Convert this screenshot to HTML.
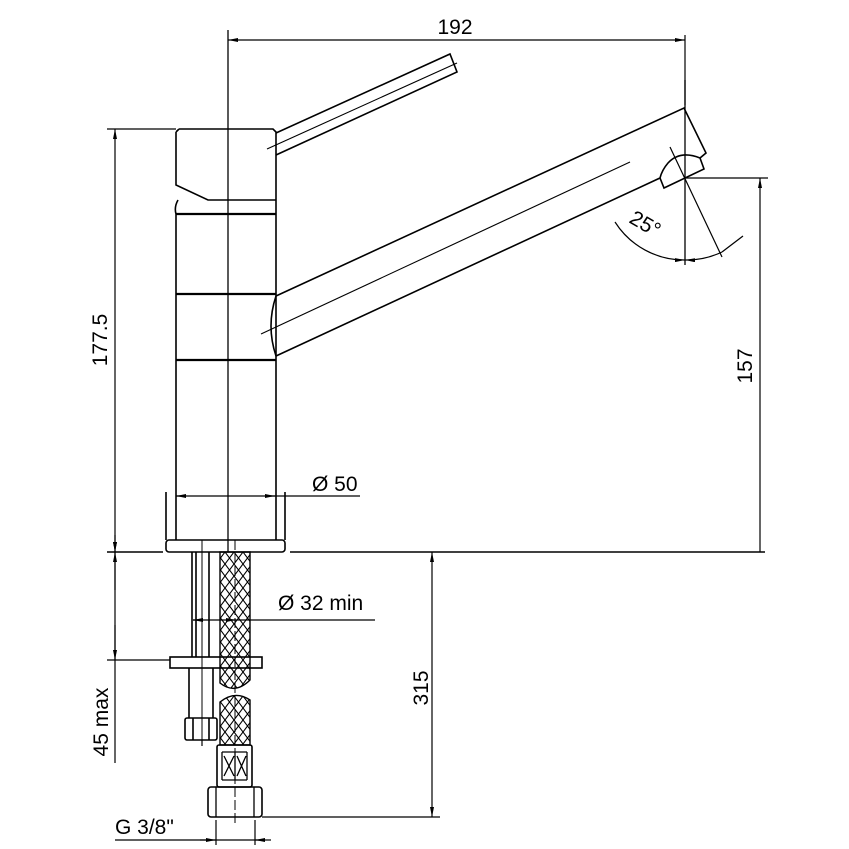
<!DOCTYPE html>
<html><head><style>body{margin:0;background:#fff}svg{display:block}text{font-family:"Liberation Sans",sans-serif;font-size:21px;fill:#000}</style></head><body>
<svg width="849" height="849" viewBox="0 0 849 849" xmlns="http://www.w3.org/2000/svg">
<defs>
<pattern id="x" width="9" height="12" patternUnits="userSpaceOnUse">
<path d="M0 0L9 12M9 0L0 12" stroke="#000" stroke-width="1.1"/>
</pattern>
<marker id="a" viewBox="0 0 10 4" refX="10" refY="2" markerWidth="10" markerHeight="4" markerUnits="userSpaceOnUse" orient="auto-start-reverse"><path d="M0 0L10 2L0 4z" fill="#000"/></marker>
</defs>
<g fill="none" stroke="#000" stroke-width="1.6">
<line x1="228" y1="30" x2="228" y2="552" stroke-width="1.3"/>
<path d="M179 129H273L276 132V200M176 132L179 129M176 132V185L208 200H276"/>
<path d="M178 200Q174 207 176 214V540M276 200V540"/>
<line x1="176" y1="214" x2="276" y2="214" stroke-width="2.2"/>
<line x1="176" y1="294" x2="276" y2="294" stroke-width="2.2"/>
<line x1="176" y1="360" x2="276" y2="360" stroke-width="2.2"/>
<path d="M276 133L450 54L457 72L276 155"/>
<line x1="267" y1="149" x2="457" y2="63" stroke-width="1.1"/>
<path d="M276 296L684 108L706 153L700 158"/>
<path d="M276 356Q266 326 276 296"/>
<path d="M276 356L660 178L664 188L704 169L700 158Q680 150 668 163Q662 170 660 178"/>
<line x1="261" y1="334" x2="630" y2="162" stroke-width="1.1"/>
<line x1="685" y1="80" x2="685" y2="265" stroke-width="1.3"/>
<line x1="670" y1="147" x2="722" y2="257" stroke-width="1.2"/>
<line x1="722" y1="252" x2="743" y2="236" stroke-width="1.2"/>
<path d="M615 222A82 82 0 0 0 685 260" stroke-width="1.2" marker-end="url(#a)"/>
<path d="M685 260A82 82 0 0 0 722 252" stroke-width="1.2" marker-start="url(#a)"/>
<path d="M166 492V540M285 492V540"/>
<rect x="166" y="540" width="119" height="12" rx="3"/>
<line x1="107" y1="552" x2="163" y2="552"/>
<line x1="290" y1="552" x2="765" y2="552"/>
<path d="M192 552V657M196 552V657M209 552V657" />
<line x1="202" y1="540" x2="202" y2="740" stroke-width="1"/>
<rect x="170" y="657" width="92" height="11"/>
<path d="M189 668V718M213 668V718"/>
<rect x="185" y="718" width="32" height="22" rx="2"/>
<path d="M193 718V740M209 718V740"/>
<line x1="202" y1="740" x2="202" y2="746" stroke-width="1.2"/>
<path d="M220 552V683Q235 695 250 680V552Z" fill="url(#x)" stroke-width="1.4"/>
<path d="M220 702Q235 690 250 700V745H220Z" fill="url(#x)" stroke-width="1.4"/>
<line x1="235" y1="540" x2="235" y2="825" stroke-width="1" stroke-dasharray="10 3"/>
<rect x="217" y="745" width="35" height="42" rx="2"/>
<path d="M222 752V780M247 752V780M222 752H247M222 780H247M224 756L234 776M234 756L224 776M237 756L246 776M246 756L237 776M235 752V780" stroke-width="1.3"/>
<rect x="208" y="787" width="54" height="30" rx="3"/>
<path d="M216 787V817M254 787V817" stroke-width="1.3"/>
<g stroke-width="1.2">
<line x1="685" y1="35" x2="685" y2="105"/>
<line x1="228" y1="40" x2="685" y2="40" marker-start="url(#a)" marker-end="url(#a)"/>
<line x1="107" y1="129" x2="176" y2="129"/>
<line x1="115" y1="129" x2="115" y2="552" marker-start="url(#a)" marker-end="url(#a)"/>
<line x1="685" y1="178" x2="768" y2="178"/>
<line x1="760" y1="178" x2="760" y2="552" marker-start="url(#a)"/>
<line x1="176" y1="496" x2="360" y2="496"/>
<line x1="176" y1="496" x2="186" y2="496" marker-start="url(#a)"/>
<line x1="265" y1="496" x2="275" y2="496" marker-end="url(#a)"/>
<line x1="193" y1="620" x2="375" y2="620"/>
<line x1="193" y1="620" x2="203" y2="620" marker-start="url(#a)"/>
<line x1="228" y1="620" x2="236" y2="620" marker-end="url(#a)"/>
<line x1="107" y1="660" x2="170" y2="660"/>
<line x1="115" y1="552" x2="115" y2="763"/>
<line x1="115" y1="590" x2="115" y2="552" marker-end="url(#a)"/>
<line x1="115" y1="625" x2="115" y2="660" marker-end="url(#a)"/>
<line x1="115" y1="535" x2="115" y2="552" marker-end="url(#a)"/>
<line x1="262" y1="817" x2="440" y2="817"/>
<line x1="432" y1="552" x2="432" y2="817" marker-start="url(#a)" marker-end="url(#a)"/>
<line x1="216" y1="820" x2="216" y2="845"/>
<line x1="255" y1="820" x2="255" y2="845"/>
<line x1="115" y1="840" x2="265" y2="840"/>
<line x1="200" y1="840" x2="216" y2="840" marker-end="url(#a)"/>
<line x1="271" y1="840" x2="255" y2="840" marker-end="url(#a)"/>
</g>
</g>
<text x="455" y="34" text-anchor="middle">192</text>
<text transform="translate(107 340) rotate(-90)" text-anchor="middle">177.5</text>
<text transform="translate(752 366) rotate(-90)" text-anchor="middle">157</text>
<text transform="translate(428 688) rotate(-90)" text-anchor="middle">315</text>
<text transform="translate(108 722) rotate(-90)" text-anchor="middle">45 max</text>
<text x="312" y="491">Ø 50</text>
<text x="278" y="610">Ø 32  min</text>
<text x="115" y="834">G 3/8"</text>
<text transform="translate(628 222) rotate(30)">25°</text>
</svg>
</body></html>
